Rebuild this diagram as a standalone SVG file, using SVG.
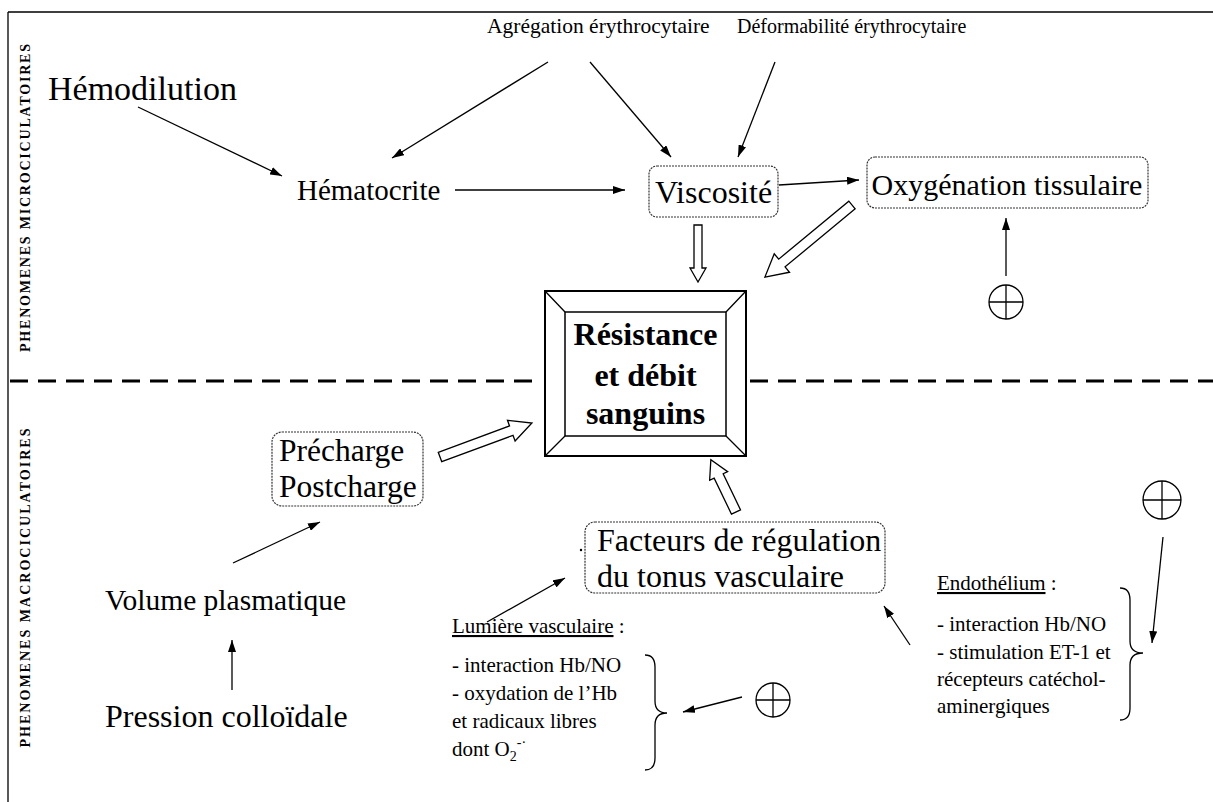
<svg xmlns="http://www.w3.org/2000/svg" width="1213" height="802" viewBox="0 0 1213 802">
<defs>
<style>
.t{font-family:"Liberation Serif","Times New Roman",serif;fill:#000}
.big{font-size:30px}
.sm{font-size:21px}
.top{font-size:20px}
.vl{font-family:"Liberation Serif","Times New Roman",serif;font-weight:bold;font-size:14px}
.ctr{font-family:"Liberation Serif","Times New Roman",serif;font-weight:bold;font-size:32px}
.ln{stroke:#000;stroke-width:1.3;fill:none}
.ar{stroke:#000;stroke-width:1.3;fill:none;marker-end:url(#ah)}
.box{fill:#fff;stroke:#333;stroke-width:1.2;stroke-dasharray:2 1}
.hol{fill:#fff;stroke:#000;stroke-width:1.3}
.plus{fill:#fff;stroke:#000;stroke-width:1.3}
</style>
<marker id="ah" viewBox="0 0 12 8" refX="12" refY="4" markerWidth="12" markerHeight="8" markerUnits="userSpaceOnUse" orient="auto"><path d="M0,0 L12,4 L0,8 Z" fill="#000"/></marker>
</defs>
<rect width="1213" height="802" fill="#fff"/>
<g id="frame">
<path d="M8,12 H1213 M8,12 V802" class="ln"/>
<path d="M10,381 H541 M750,381 H1213" stroke="#000" stroke-width="3" stroke-dasharray="18 10" fill="none"/>
<text class="vl" transform="translate(30,198) rotate(-90)" text-anchor="middle" textLength="308" lengthAdjust="spacing">PHENOMENES MICROCICULATOIRES</text>
<text class="vl" transform="translate(30,588) rotate(-90)" text-anchor="middle" textLength="319" lengthAdjust="spacing">PHENOMENES MACROCICULATOIRES</text>
</g>
<g id="connectors">
<line class="ar" x1="138" y1="107" x2="282" y2="176"/>
<line class="ar" x1="548" y1="62" x2="392" y2="158"/>
<line class="ar" x1="590" y1="62" x2="671" y2="157"/>
<line class="ar" x1="775" y1="62" x2="738" y2="157"/>
<line class="ar" x1="455" y1="190" x2="625" y2="190" stroke-width="1.1"/>
<line class="ar" x1="779" y1="185" x2="859" y2="180"/>
<line class="ar" x1="1006" y1="276" x2="1006" y2="218"/>
<line class="ar" x1="233" y1="563" x2="320" y2="522"/>
<line class="ar" x1="232" y1="690" x2="232" y2="640"/>
<line class="ar" x1="487" y1="622" x2="565" y2="578"/>
<line class="ar" x1="742" y1="697" x2="683" y2="712"/>
<line class="ar" x1="910" y1="645" x2="884" y2="606"/>
<line class="ar" x1="1163" y1="537" x2="1152" y2="643"/>
<path class="hol" transform="translate(698,225) rotate(90)" d="M0,-4 L43,-4 L43,-8 L57,0 L43,8 L43,4 L0,4 Z"/>
<path class="hol" transform="translate(852,205) rotate(140.4)" d="M0,-5 L91,-5 L91,-12 L113,0 L91,12 L91,5 L0,5 Z"/>
<path class="hol" transform="translate(440,457) rotate(-20.3)" d="M0,-5 L76,-5 L76,-11 L98,0 L76,11 L76,5 L0,5 Z"/>
<path class="hol" transform="translate(736,512) rotate(-115.7)" d="M0,-5 L40,-5 L40,-10 L58,0 L40,10 L40,5 L0,5 Z"/>
<path class="ln" d="M645,655 Q655,655 655,667 V701 Q655,713 667,713 Q655,713 655,725 V758 Q655,770 645,770"/>
<path class="ln" d="M1120,588 Q1130,588 1130,600 V641 Q1130,653 1143,653 Q1130,653 1130,665 V708 Q1130,720 1120,720"/>
</g>
<g id="agregation"><text class="t" font-size="21.5" x="487" y="33">Agrégation érythrocytaire</text></g>
<g id="deformabilite"><text class="t top" x="737" y="33">Déformabilité érythrocytaire</text></g>
<g id="hemodilution"><text class="t" font-size="34" x="48" y="100">Hémodilution</text></g>
<g id="hematocrite"><text class="t" font-size="29" x="297" y="200">Hématocrite</text></g>
<g id="viscosite">
<rect class="box" x="649" y="166" width="129" height="51" rx="8"/>
<text class="t" font-size="32" x="713.5" y="203" text-anchor="middle">Viscosité</text>
</g>
<g id="oxygenation">
<rect class="box" x="867" y="157" width="281" height="51" rx="8"/>
<text class="t big" x="1007" y="195" text-anchor="middle">Oxygénation tissulaire</text>
</g>
<g id="plus1">
<circle class="plus" cx="1006" cy="302" r="17"/>
<path class="ln" d="M989,302 H1023 M1006,285 V319"/>
</g>
<g id="resistance">
<rect x="545" y="291" width="201" height="165" fill="#fff" stroke="#000" stroke-width="2"/>
<rect x="565" y="312" width="161" height="124" fill="#fff" stroke="#000" stroke-width="1.5"/>
<path class="ln" d="M545,291 L565,312 M746,291 L726,312 M545,456 L565,436 M746,456 L726,436"/>
<text class="ctr" x="645.5" y="345" text-anchor="middle">Résistance</text>
<text class="ctr" x="645.5" y="386" text-anchor="middle">et débit</text>
<text class="ctr" x="645.5" y="424" text-anchor="middle">sanguins</text>
</g>
<g id="precharge">
<rect class="box" x="272" y="432" width="151" height="74" rx="10"/>
<text class="t" font-size="31.5" x="279" y="461">Précharge</text>
<text class="t" font-size="31.5" x="279" y="497">Postcharge</text>
</g>
<g id="volume"><text class="t" font-size="29.5" x="105" y="610">Volume plasmatique</text></g>
<g id="pression"><text class="t" font-size="32" x="105" y="727">Pression colloïdale</text></g>
<g id="facteurs">
<circle cx="581" cy="550" r="1.2" fill="#000"/>
<rect class="box" x="585" y="522" width="300" height="71" rx="10"/>
<text class="t" font-size="32" x="597" y="551">Facteurs de régulation</text>
<text class="t" font-size="32" x="597" y="587">du tonus vasculaire</text>
</g>
<g id="lumiere">
<text class="t sm" x="452" y="633"><tspan text-decoration="underline">Lumière vasculaire</tspan> :</text>
<text class="t sm" x="452" y="672">- interaction Hb/NO</text>
<text class="t sm" x="452" y="700">- oxydation de l’Hb</text>
<text class="t sm" x="452" y="728">et radicaux libres</text>
<text class="t sm" x="452" y="756">dont O<tspan dy="5" font-size="14">2</tspan><tspan dy="-14" font-size="14">-·</tspan></text>
</g>
<g id="plus2">
<circle class="plus" cx="773" cy="700" r="17"/>
<path class="ln" d="M756,700 H790 M773,683 V717"/>
</g>
<g id="endothelium">
<text class="t sm" x="937" y="590"><tspan text-decoration="underline">Endothélium</tspan>  :</text>
<text class="t sm" x="937" y="631">- interaction Hb/NO</text>
<text class="t sm" x="937" y="659">- stimulation ET-1 et</text>
<text class="t sm" x="937" y="686">récepteurs catéchol-</text>
<text class="t sm" x="937" y="713">aminergiques</text>
</g>
<g id="plus3">
<circle class="plus" cx="1162" cy="500" r="19"/>
<path class="ln" d="M1143,500 H1181 M1162,481 V519"/>
</g>
</svg>
